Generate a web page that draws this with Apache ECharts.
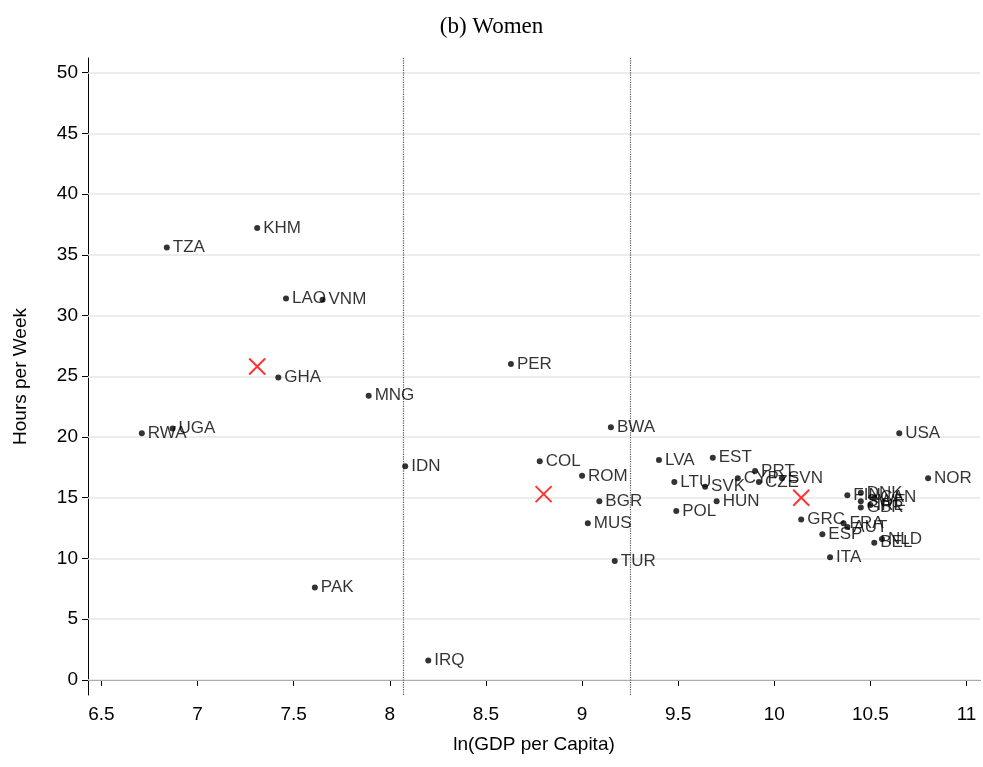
<!DOCTYPE html>
<html><head><meta charset="utf-8">
<script src="https://cdn.jsdelivr.net/npm/echarts@6/dist/echarts.min.js"></script>
<style>html,body{margin:0;background:#fff}#c{width:983px;height:767px}</style>
</head><body><div id="c"></div>
<script>
// country codes, ln GDP per capita, hours per week
const codes = ['TZA','KHM','LAO','VNM','GHA','MNG','RWA','UGA','IDN','PAK','IRQ','PER','COL','ROM','BGR','MUS','TUR','BWA','LVA','LTU','SVK','POL','HUN','EST','PRT','CYP','CZE','SVN','GRC','ESP','FRA','AUT','BEL','NLD','ITA','FIN','DNK','SWE','CAN','GBR','IRL','USA','NOR']
const gdp = [6.84,7.31,7.46,7.65,7.42,7.89,6.71,6.87,8.08,7.61,8.20,8.63,8.78,9.00,9.09,9.03,9.17,9.15,9.40,9.48,9.64,9.49,9.70,9.68,9.90,9.81,9.92,10.04,10.14,10.25,10.36,10.38,10.52,10.56,10.29,10.38,10.45,10.45,10.52,10.45,10.50,10.65,10.80]
const hours = [35.6,37.2,31.4,31.3,24.9,23.4,20.3,20.7,17.6,7.6,1.6,26.0,18.0,16.8,14.7,12.9,9.8,20.8,18.1,16.3,15.9,13.9,14.7,18.3,17.2,16.6,16.3,16.6,13.2,12.0,12.9,12.6,11.3,11.6,10.1,15.2,15.4,14.7,15.0,14.2,14.4,20.3,16.6]
const groupX = [7.31,8.80,10.14]
const groupY = [25.8,15.3,15.0]
const cutoffs = [8.07,9.25]
const xTicks = [6.5,7,7.5,8,8.5,9,9.5,10,10.5,11]
const yTicks = [0,5,10,15,20,25,30,35,40,45,50]

const font = 'Liberation Sans'
const pts = codes.map((c,i) => [gdp[i],hours[i],c])
const chart = echarts.init(document.getElementById('c'))
chart.setOption({
  animation:false,
  title:{text:'(b) Women',left:'center',top:10,textStyle:{fontFamily:'Liberation Serif',fontWeight:'normal',fontSize:23,color:'#000'}},
  grid:{left:88,right:3,top:58,bottom:72},
  xAxis:{type:'value',min:6.43,max:11.07,name:'ln(GDP per Capita)',nameLocation:'middle',nameGap:40,
    nameTextStyle:{fontFamily:font,fontSize:19,color:'#000'},
    axisLine:{lineStyle:{color:'#000'}},splitLine:{show:false},
    axisTick:{show:true,inside:false,length:6,customValues:xTicks,lineStyle:{color:'#000'}},
    axisLabel:{customValues:xTicks,fontFamily:font,fontSize:19,color:'#000',margin:10}},
  yAxis:{type:'value',min:-1.24,max:51.2,name:'Hours per Week',nameLocation:'middle',nameGap:58,
    nameTextStyle:{fontFamily:font,fontSize:19,color:'#000'},
    axisLine:{show:true,lineStyle:{color:'#000'}},
    splitLine:{show:false},
    axisTick:{show:true,inside:false,length:6,customValues:yTicks,lineStyle:{color:'#000'}},
    axisLabel:{customValues:yTicks,fontFamily:font,fontSize:19,color:'#000',margin:10}},
  series:[
    {type:'scatter',data:pts,symbolSize:6,itemStyle:{color:'#000'},
      label:{show:true,position:'right',distance:3,formatter:p=>p.data[2],fontFamily:font,fontSize:17,color:'#000',textBorderWidth:0},
      markLine:{silent:true,symbol:'none',label:{show:false},z:1,
        data:[...yTicks.map(v=>({yAxis:v,lineStyle:{color:'#e6e6e6',type:'solid',width:1.5}})),
              ...cutoffs.map(v=>({xAxis:v,lineStyle:{color:'#555',type:'dotted',width:1.2}}))]}},
    {type:'scatter',data:groupX.map((x,i)=>[x,groupY[i]]),symbol:'path://M0,0L10,10M10,0L0,10',symbolSize:16,
      itemStyle:{color:'none',borderColor:'#f00',borderWidth:2}}
  ]
})
</script></body></html>
